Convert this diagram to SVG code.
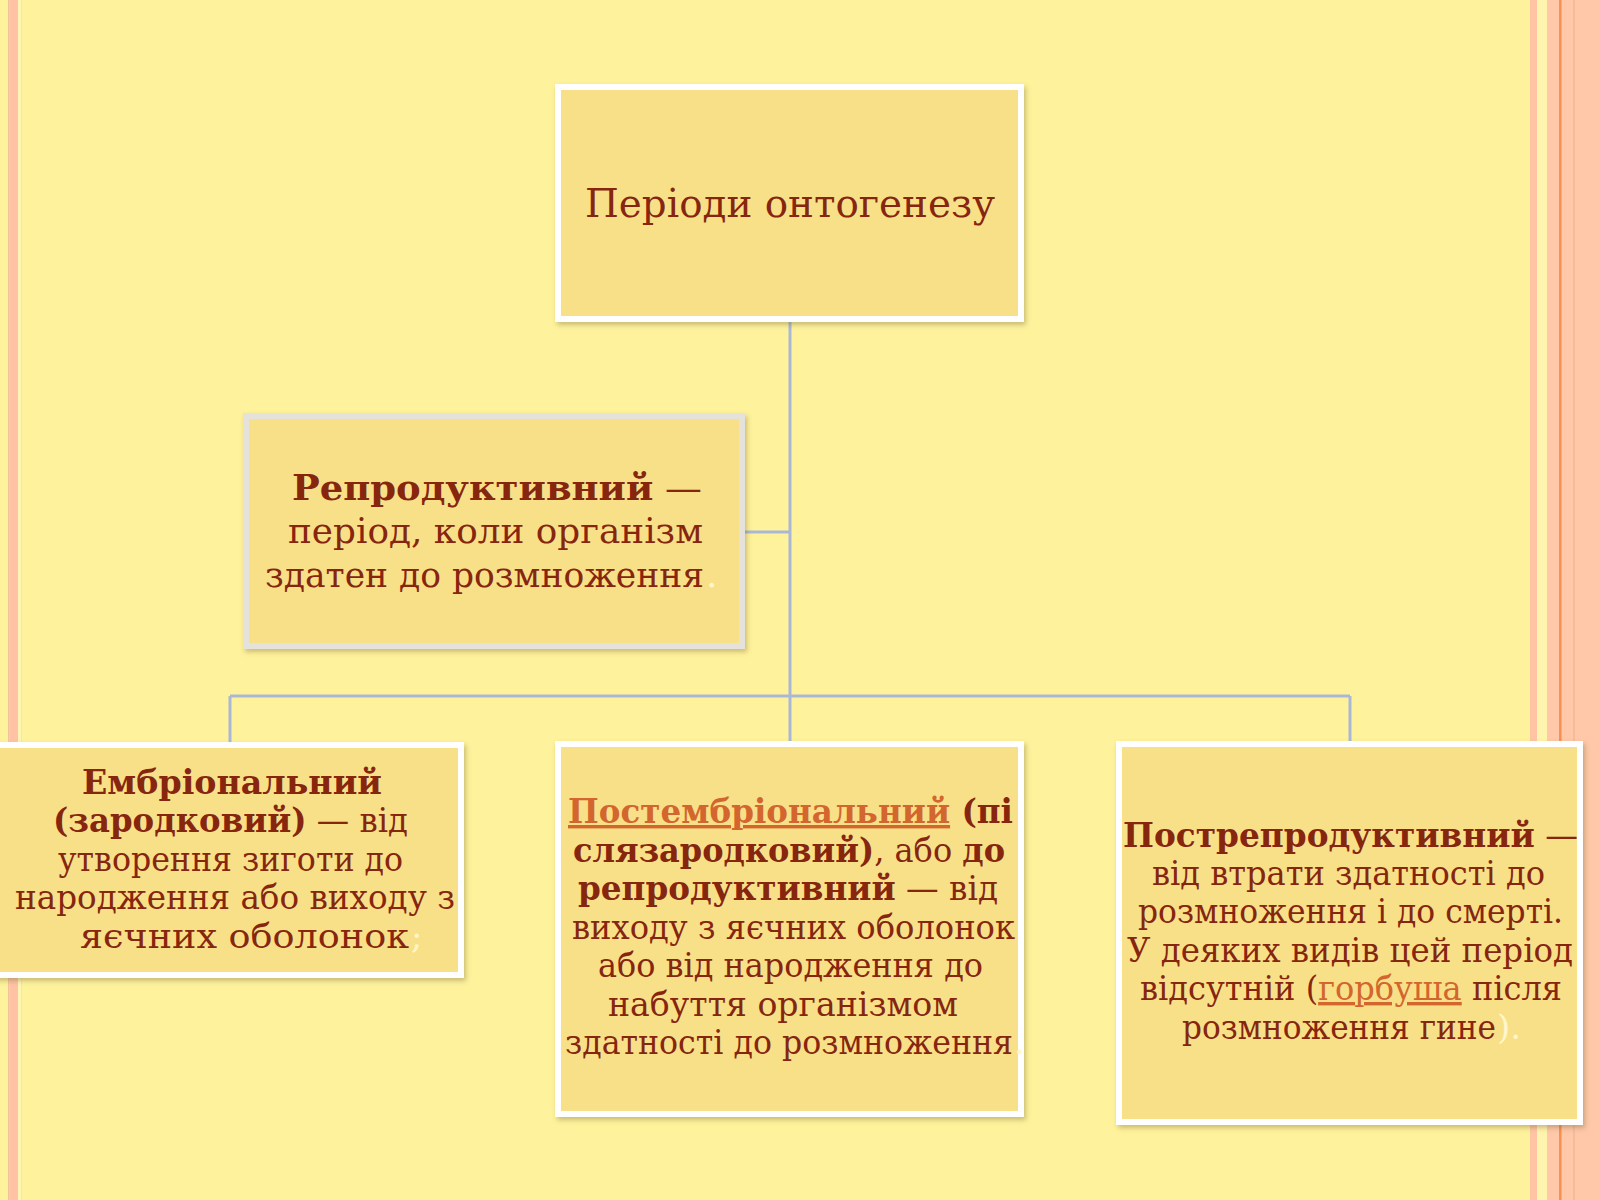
<svg xmlns="http://www.w3.org/2000/svg" width="1600" height="1200" viewBox="0 0 1600 1200">
<defs>
<filter id="sh" x="-5%" y="-5%" width="110%" height="115%">
<feDropShadow dx="2" dy="3" stdDeviation="2.5" flood-color="#6b5a2a" flood-opacity="0.35"/>
</filter>
<style>
.box{fill:#F8E088;stroke:#FFFFFF;stroke-width:6;filter:url(#sh)}
.boxg{fill:#F8E088;stroke:#E4E2DA;stroke-width:6;filter:url(#sh)}
.t{font-family:"DejaVu Serif","Liberation Serif",serif;fill:#86260F}
.b{font-weight:bold}
.lk{fill:#D2662E;text-decoration:underline}
.lt{font-family:"DejaVu Serif","Liberation Serif",serif;fill:#FFF6CC}
.c{fill:none;stroke:#A9B8D6;stroke-width:3}
</style>
</defs>
<rect x="0" y="0" width="1600" height="1200" fill="#FFF29C"/>
<g id="background-stripes">
<rect x="8" y="0" width="1.5" height="1200" fill="#F2C39A"/>
<rect x="9.5" y="0" width="8.5" height="1200" fill="#FFC2A4"/>
<rect x="18" y="0" width="3" height="1200" fill="#FFF6B4"/>
<rect x="21" y="0" width="1" height="1200" fill="#F6E6A0"/>
<rect x="1530" y="0" width="7" height="1200" fill="#FFC4A4"/>
<rect x="1537" y="0" width="10" height="1200" fill="#FFF4AE"/>
<rect x="1547" y="0" width="53" height="1200" fill="#FFC8A8"/>
<rect x="1559" y="0" width="2.5" height="1200" fill="#F79050"/>
<rect x="1573" y="0" width="2" height="1200" fill="#F7BB9A"/>
</g>
<g id="connectors">
<path class="c" d="M790 322 V741"/>
<path class="c" d="M745 532 H790"/>
<path class="c" d="M230 696 H1350"/>
<path class="c" d="M230 696 V742"/>
<path class="c" d="M1350 696 V741"/>
</g>
<g id="node-root">
<rect class="box" x="558" y="87" width="463" height="232"/>
<text class="t" font-size="40" x="585" y="217" textLength="410" lengthAdjust="spacingAndGlyphs">Періоди онтогенезу</text>
</g>
<g id="node-reproductive">
<rect class="boxg" x="246" y="416" width="496" height="230"/>
<text class="t" font-size="36" x="292" y="500" textLength="410" lengthAdjust="spacingAndGlyphs"><tspan class="b">Репродуктивний</tspan> —</text>
<text class="t" font-size="36" x="288" y="543" textLength="415" lengthAdjust="spacingAndGlyphs">період, коли організм</text>
<text class="t" font-size="36" x="265" y="587" textLength="439" lengthAdjust="spacingAndGlyphs">здатен до розмноження</text>
<text class="lt" font-size="36" x="706" y="587">.</text>
</g>
<g id="node-embryonic">
<rect class="box" x="-3" y="745" width="464" height="230"/>
<text class="t b" font-size="34" x="82" y="794" textLength="300" lengthAdjust="spacingAndGlyphs">Ембріональний</text>
<text class="t" font-size="34" x="53" y="832" textLength="355" lengthAdjust="spacingAndGlyphs"><tspan class="b">(зародковий)</tspan> — від</text>
<text class="t" font-size="34" x="58" y="871" textLength="345" lengthAdjust="spacingAndGlyphs">утворення зиготи до</text>
<text class="t" font-size="34" x="15" y="909" textLength="440" lengthAdjust="spacingAndGlyphs">народження або виходу з</text>
<text class="t" font-size="34" x="80" y="948" textLength="329" lengthAdjust="spacingAndGlyphs">яєчних оболонок</text>
<text class="lt" font-size="34" x="411" y="948">;</text>
</g>
<g id="node-postembryonic">
<rect class="box" x="558" y="744" width="463" height="370"/>
<text class="t b" font-size="34" x="568" y="823" textLength="445" lengthAdjust="spacingAndGlyphs"><tspan class="lk">Постембріональний</tspan> (пі</text>
<text class="t" font-size="34" x="573" y="862" textLength="432" lengthAdjust="spacingAndGlyphs"><tspan class="b">слязародковий)</tspan>, або <tspan class="b">до</tspan></text>
<text class="t" font-size="34" x="578" y="900" textLength="420" lengthAdjust="spacingAndGlyphs"><tspan class="b">репродуктивний</tspan> — від</text>
<text class="t" font-size="34" x="572" y="939" textLength="443" lengthAdjust="spacingAndGlyphs">виходу з яєчних оболонок</text>
<text class="t" font-size="34" x="598" y="977" textLength="385" lengthAdjust="spacingAndGlyphs">або від народження до</text>
<text class="t" font-size="34" x="608" y="1016" textLength="350" lengthAdjust="spacingAndGlyphs">набуття організмом</text>
<text class="t" font-size="34" x="565" y="1054" textLength="448" lengthAdjust="spacingAndGlyphs">здатності до розмноження</text>
<text class="lt" font-size="34" x="1014" y="1054">.</text>
</g>
<g id="node-postreproductive">
<rect class="box" x="1119" y="744" width="461" height="378"/>
<text class="t" font-size="34" x="1123" y="847" textLength="455" lengthAdjust="spacingAndGlyphs"><tspan class="b">Пострепродуктивний</tspan> —</text>
<text class="t" font-size="34" x="1152" y="885" textLength="393" lengthAdjust="spacingAndGlyphs">від втрати здатності до</text>
<text class="t" font-size="34" x="1138" y="923" textLength="425" lengthAdjust="spacingAndGlyphs">розмноження і до смерті.</text>
<text class="t" font-size="34" x="1127" y="962" textLength="446" lengthAdjust="spacingAndGlyphs">У деяких видів цей період</text>
<text class="t" font-size="34" x="1140" y="1000" textLength="422" lengthAdjust="spacingAndGlyphs">відсутній (<tspan class="lk">горбуша</tspan> після</text>
<text class="t" font-size="34" x="1182" y="1039" textLength="314" lengthAdjust="spacingAndGlyphs">розмноження гине</text>
<text class="lt" font-size="34" x="1497" y="1039">).</text>
</g>
</svg>
